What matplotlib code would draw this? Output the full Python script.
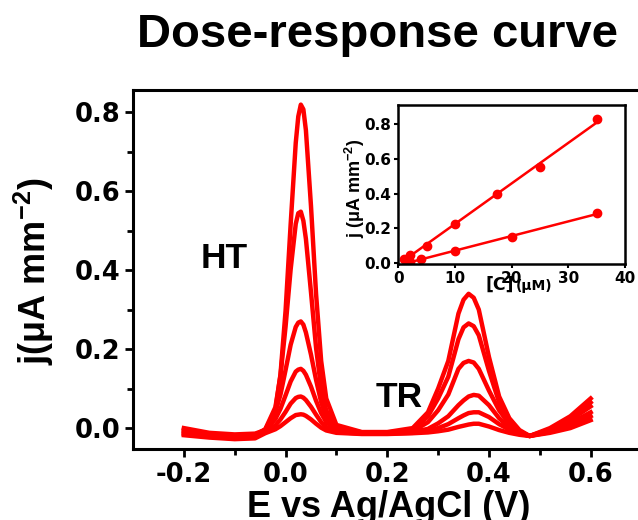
import matplotlib.pyplot as plt
import numpy as np

plt.rcParams['mathtext.fontset'] = 'custom'
plt.rcParams['mathtext.rm'] = 'Liberation Sans'
plt.rcParams['mathtext.bf'] = 'Liberation Sans:bold'

# potential axis shared by all scans (V)
potential = [-0.20, -0.15, -0.10, -0.06,
             -0.04, -0.02, -0.01, 0.00, 0.01, 0.02, 0.025, 0.03, 0.035, 0.04, 0.05, 0.06, 0.07, 0.08,
             0.10, 0.15, 0.20,
             0.25, 0.28, 0.30, 0.32, 0.34, 0.35, 0.36, 0.37, 0.38, 0.40, 0.42, 0.44, 0.46, 0.48,
             0.52, 0.56, 0.60]

# current density for each concentration (uA mm^-2), largest first
scan1 = [0.000, -0.012, -0.016, -0.014,
         -0.005, 0.046, 0.136, 0.297, 0.516, 0.722, 0.789, 0.819, 0.807, 0.754, 0.562, 0.339, 0.170, 0.075,
         0.008, -0.010, -0.010,
         0.000, 0.040, 0.100, 0.170, 0.290, 0.325, 0.340, 0.330, 0.300, 0.180, 0.080, 0.025, -0.005, -0.020,
         0.000, 0.030, 0.075]
scan2 = [-0.004, -0.015, -0.019, -0.017,
         -0.003, 0.053, 0.133, 0.257, 0.402, 0.517, 0.544, 0.548, 0.525, 0.479, 0.344, 0.203, 0.100, 0.045,
         0.002, -0.011, -0.011,
         -0.005, 0.030, 0.075, 0.130, 0.225, 0.255, 0.265, 0.258, 0.235, 0.145, 0.065, 0.018, -0.008, -0.020,
         -0.003, 0.025, 0.065]
scan3 = [-0.008, -0.018, -0.022, -0.020,
         -0.004, 0.040, 0.085, 0.147, 0.211, 0.256, 0.267, 0.270, 0.262, 0.242, 0.186, 0.122, 0.066, 0.028,
         -0.004, -0.012, -0.012,
         -0.008, 0.015, 0.045, 0.085, 0.150, 0.165, 0.170, 0.166, 0.150, 0.095, 0.045, 0.010, -0.010, -0.020,
         -0.005, 0.020, 0.055]
scan4 = [-0.012, -0.020, -0.024, -0.022,
         -0.006, 0.023, 0.049, 0.083, 0.118, 0.143, 0.148, 0.150, 0.145, 0.135, 0.105, 0.069, 0.038, 0.015,
         -0.007, -0.013, -0.013,
         -0.010, -0.002, 0.012, 0.030, 0.058, 0.070, 0.080, 0.084, 0.082, 0.058, 0.025, 0.002, -0.012, -0.020,
         -0.008, 0.012, 0.040]
scan5 = [-0.015, -0.022, -0.026, -0.024,
         -0.010, 0.007, 0.022, 0.041, 0.062, 0.076, 0.079, 0.080, 0.077, 0.071, 0.054, 0.034, 0.015, 0.002,
         -0.010, -0.014, -0.014,
         -0.012, -0.008, 0.000, 0.010, 0.025, 0.032, 0.038, 0.040, 0.040, 0.028, 0.010, -0.004, -0.014, -0.020,
         -0.010, 0.005, 0.030]
scan6 = [-0.018, -0.024, -0.028, -0.026,
         -0.013, -0.003, 0.005, 0.015, 0.025, 0.033, 0.034, 0.035, 0.034, 0.031, 0.022, 0.011, 0.001, -0.006,
         -0.012, -0.015, -0.015,
         -0.013, -0.011, -0.008, -0.004, 0.003, 0.006, 0.009, 0.011, 0.011, 0.004, -0.005, -0.012, -0.017, -0.020,
         -0.012, 0.000, 0.020]
scans = [scan1, scan2, scan3, scan4, scan5, scan6]

# calibration points for the inset
ht_conc = [1, 2, 5, 10, 17.5, 25, 35]
ht_j = [0.022, 0.046, 0.10, 0.224, 0.40, 0.55, 0.827]
tr_conc = [2, 4, 10, 20, 35]
tr_j = [0.008, 0.021, 0.069, 0.148, 0.286]

red = '#ff0000'
arial = 'Liberation Sans'

fig = plt.figure(figsize=(6.38, 5.2), dpi=100)
ax = fig.add_axes([0.2085, 0.1365, 0.797, 0.6904])

for s in scans:
    ax.plot(potential, s, color=red, lw=3.2, solid_joinstyle='round')

ax.set_xlim(-0.3, 0.7)
ax.set_ylim(-0.053, 0.856)
ax.set_xticks([-0.2, 0.0, 0.2, 0.4, 0.6])
ax.set_xticks([-0.1, 0.1, 0.3, 0.5], minor=True)
ax.set_yticks([0.0, 0.2, 0.4, 0.6, 0.8])
ax.set_yticks([0.1, 0.3, 0.5, 0.7], minor=True)
ax.xaxis.set_major_formatter(plt.FormatStrFormatter('%.1f'))
ax.yaxis.set_major_formatter(plt.FormatStrFormatter('%.1f'))
ax.tick_params(which='major', direction='out', length=6, width=2, labelsize=18.5)
ax.tick_params(which='minor', direction='out', length=4, width=2)
ax.tick_params(axis='x', pad=3.5)
ax.tick_params(axis='y', pad=3)
for lab in ax.get_xticklabels() + ax.get_yticklabels():
    lab.set_fontweight('bold')
for sp in ax.spines.values():
    sp.set_linewidth(2.2)

ax.text(-0.167, 0.405, 'HT', fontsize=25.5, fontweight='bold', family=arial, va='baseline')
ax.text(0.178, 0.054, 'TR', fontsize=25.5, fontweight='bold', family=arial, va='baseline')

fig.text(0.591, 0.9096, 'Dose-response curve', fontsize=34, fontweight='bold',
         family=arial, ha='center', va='baseline')
fig.text(0.609, 0.006, 'E vs Ag/AgCl (V)', fontsize=26, fontweight='bold',
         family=arial, ha='center', va='baseline')
fig.text(0.053, 0.478, 'j(\u03bcA mm$^{\\mathbf{-2}}$)', fontsize=26, fontweight='bold',
         family=arial, rotation=90, ha='center', va='center')

# inset: calibration curves
axi = fig.add_axes([0.6243, 0.4923, 0.3553, 0.3058])
for conc, j in [(ht_conc, ht_j), (tr_conc, tr_j)]:
    axi.plot(conc, j, 'o', color=red, ms=6)
    k, b = np.polyfit(conc, j, 1)
    xs = np.array([min(conc), max(conc)])
    axi.plot(xs, k * xs + b, color=red, lw=1.8)

axi.set_xlim(0, 40)
axi.set_ylim(-0.006, 0.91)
axi.set_xticks([0, 10, 20, 30, 40])
axi.set_yticks([0.0, 0.2, 0.4, 0.6, 0.8])
axi.yaxis.set_major_formatter(plt.FormatStrFormatter('%.1f'))
axi.tick_params(direction='out', length=3, width=1.5, labelsize=11, pad=2)
for lab in axi.get_xticklabels() + axi.get_yticklabels():
    lab.set_fontweight('bold')
for sp in axi.spines.values():
    sp.set_linewidth(1.8)

fig.text(0.556, 0.638, 'j (\u03bcA mm$^{\\mathbf{-2}}$)', fontsize=13, fontweight='bold',
         family=arial, rotation=90, ha='center', va='center')
fig.text(0.8056, 0.4423, '[C]', fontsize=12.5, fontweight='bold', ha='right', va='baseline')
fig.text(0.8086, 0.4423, '(\u03bcM)', fontsize=10, fontweight='bold', ha='left', va='baseline')

fig.savefig('out.png', dpi=100)
